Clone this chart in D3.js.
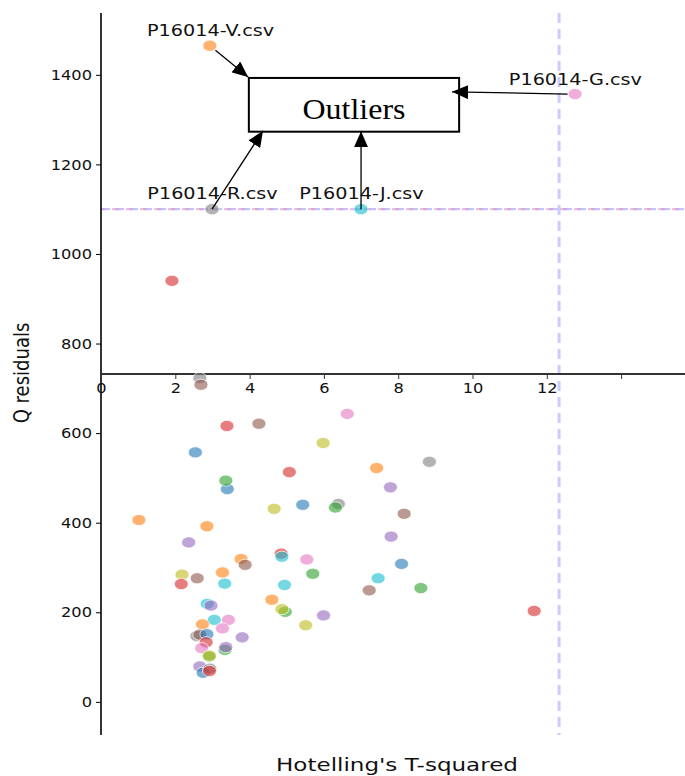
<!DOCTYPE html>
<html><head><meta charset="utf-8">
<script src="https://cdn.jsdelivr.net/npm/d3@7"></script>
<style>body{margin:0;background:#fff}svg{display:block}</style>
</head><body>
<script>
// ---- data ----
const t2Values = [2.66,2.69,3.39,4.25,6.63,2.54,5.98,5.07,3.40,3.36,4.66,5.43,6.39,6.31,1.02,2.85,2.36,3.77,3.88,4.85,4.87,5.54,5.70,2.18,2.59,2.16,3.27,3.33,4.94,4.60,4.96,4.87,5.51,5.99,2.86,2.96,3.05,3.43,3.27,2.73,2.58,2.66,2.85,2.83,3.80,2.71,3.34,3.36,2.91,2.92,2.66,2.75,2.93,2.92,8.84,7.42,7.79,8.16,7.81,8.09,7.46,7.22,8.61,11.66,1.91,2.93,2.99,7.00,12.76];
const qValues  = [723,708,616,621,643,557,578,513,475,494,431,440,442,434,406,392,356,319,306,331,324,318,286,284,276,263,289,264,261,228,201,207,171,193,219,215,183,183,164,173,147,150,151,133,144,120,116,122,101,103,79,65,74,69,536,522,479,420,369,308,276,249,254,203,940,1465,1100,1100,1357];
const groupIdx = [7,5,3,5,6,0,8,3,0,2,8,0,7,2,1,1,4,1,5,3,9,6,2,8,5,3,1,9,9,1,2,8,8,4,9,4,9,6,6,1,7,5,0,3,4,6,2,4,2,8,4,0,7,3,7,1,4,5,4,0,9,5,2,3,3,1,7,9,6];
const outlierNames = ["P16014-V.csv","P16014-G.csv","P16014-R.csv","P16014-J.csv"];
const outlierT2 = [2.93,12.76,2.99,7.00];
const outlierQ  = [1465,1357,1100,1100];
const xTicks = [0,2,4,6,8,10,12,14];
const xTickLabels = ["0","2","4","6","8","10","12",""];
const yTicks = [0,200,400,600,800,1000,1200,1400];
const t2Limit = 12.33;
const qLimit = 1100;

// ---- layout ----
const W = 685, H = 776;
const svg = d3.select("body").append("svg").attr("width", W).attr("height", H);
const x = d3.scaleLinear().domain([0, 15.72]).range([101, 685]);
const y = d3.scaleLinear().domain([-74, 1538]).range([735, 13]);
const SX = 1.28;
const font = "DejaVu Sans, sans-serif";

const defs = svg.append("defs");
defs.append("marker").attr("id","ah").attr("markerUnits","userSpaceOnUse")
  .attr("viewBox","0 0 16 14").attr("refX",16).attr("refY",7)
  .attr("markerWidth",16).attr("markerHeight",14).attr("orient","auto")
  .append("path").attr("d","M0,0 L16,7 L0,14 Z").attr("fill","#000");

// limit lines
svg.append("line").attr("x1", x(0)).attr("x2", W).attr("y1", y(qLimit)).attr("y2", y(qLimit))
  .attr("stroke","rgba(170,170,255,0.7)").attr("stroke-width",2.2).attr("stroke-dasharray","9,5");
svg.append("line").attr("x1", x(0)).attr("x2", W).attr("y1", y(qLimit)).attr("y2", y(qLimit))
  .attr("stroke","rgba(225,150,200,0.6)").attr("stroke-width",2.2).attr("stroke-dasharray","7,7").attr("stroke-dashoffset",3);
svg.append("line").attr("x1", x(t2Limit)).attr("x2", x(t2Limit)).attr("y1", y.range()[1]).attr("y2", y.range()[0])
  .attr("stroke","rgba(190,190,255,0.8)").attr("stroke-width",3).attr("stroke-dasharray","10,6");

// axes
const yAxis = svg.append("g").attr("transform",`translate(${x(0)},0)`)
  .call(d3.axisLeft(y).tickValues(yTicks).tickSize(5).tickPadding(4).tickFormat(d3.format("d")));
yAxis.select(".domain").attr("d", `M0,${y.range()[1]}V${y.range()[0]}`).attr("stroke","#000").attr("stroke-width",1.6);
yAxis.selectAll("text").attr("font-family",font).attr("font-size",14.5).attr("fill","#111")
  .attr("transform","scale(1.12,1)").attr("x",-9/1.12);

const xAxisY = (y.range()[0] + y.range()[1]) / 2;
const xAxis = svg.append("g").attr("transform",`translate(0,${xAxisY})`)
  .call(d3.axisBottom(x).tickValues(xTicks).tickSize(5).tickPadding(3).tickFormat((d,i)=>xTickLabels[i]));
xAxis.select(".domain").attr("d", `M${x(0)},0H${W}`).attr("stroke","#333").attr("stroke-width",1.8);
xAxis.selectAll(".tick line").attr("stroke","#333");
xAxis.selectAll(".tick text").attr("font-family",font).attr("font-size",14.5).attr("fill","#111")
  .attr("transform","scale(1.12,1)").attr("dy","0.78em");

// points
const pts = t2Values.map((v,i)=>({t:v, q:qValues[i], g:groupIdx[i]}));
svg.append("g").selectAll("ellipse").data(pts).join("ellipse")
  .attr("cx", d=>x(d.t)).attr("cy", d=>y(d.q)).attr("rx", 7).attr("ry", 5.6)
  .attr("fill", d=>d3.schemeCategory10[d.g]).attr("fill-opacity",0.6)
  .attr("stroke","#fff").attr("stroke-opacity",0.7).attr("stroke-width",1);

// outlier box
const box = {x0: 3.98, x1: 9.64, y0: 1393, y1: 1273};
svg.append("rect").attr("x", x(box.x0)).attr("y", y(box.y0))
  .attr("width", x(box.x1)-x(box.x0)).attr("height", y(box.y1)-y(box.y0))
  .attr("fill","#fff").attr("stroke","#000").attr("stroke-width",2);
svg.append("text").attr("x", x(6.81)).attr("y", y(1301))
  .attr("text-anchor","middle").attr("font-family","Liberation Serif, Times New Roman, serif")
  .attr("font-size",29).attr("textLength",103).attr("lengthAdjust","spacingAndGlyphs").text("Outliers");

// arrows (start near outlier, tip at box)
const arrowTips = [[3.96,1395],[9.45,1362],[4.36,1275],[7.0,1274]];
const arrowStartsShift = [[0.15,-10],[-0.2,0],[0,0],[0,0]];
arrowTips.forEach((tip,i)=>{
  svg.append("line")
    .attr("x1", x(outlierT2[i]+arrowStartsShift[i][0])).attr("y1", y(outlierQ[i]+arrowStartsShift[i][1]))
    .attr("x2", x(tip[0])).attr("y2", y(tip[1]))
    .attr("stroke","#000").attr("stroke-width",1.3).attr("marker-end","url(#ah)");
});

// labels
const labelPos = [[2.95,1487],[12.77,1377],[3.0,1123],[7.01,1123]];
outlierNames.forEach((n,i)=>{
  svg.append("text").attr("transform",`translate(${x(labelPos[i][0])},${y(labelPos[i][1])}) scale(${SX},1)`)
    .attr("text-anchor","middle").attr("font-family",font).attr("font-size",15).attr("fill","#111").text(n);
});

// axis titles
svg.append("text").attr("transform",`translate(397,771) scale(${SX},1)`).attr("text-anchor","middle")
  .attr("font-family",font).attr("font-size",18).attr("fill","#111").text("Hotelling's T-squared");
svg.append("text").attr("transform",`translate(29,373) rotate(-90) scale(1,1.2)`).attr("text-anchor","middle")
  .attr("font-family",font).attr("font-size",18).attr("fill","#111").text("Q residuals");
</script>
</body></html>
